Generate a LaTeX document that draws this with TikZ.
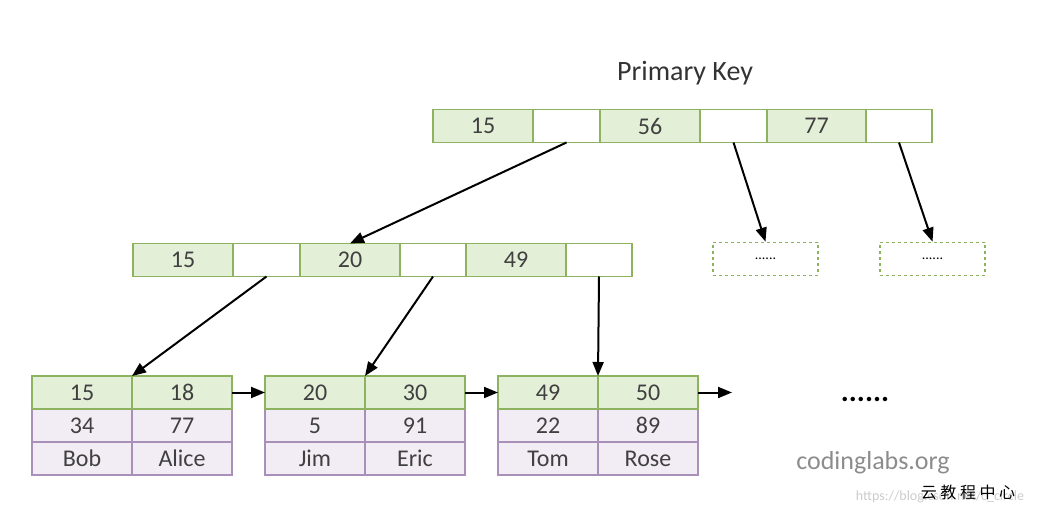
\documentclass[tikz,border=0pt]{standalone}
\usepackage{fontspec}
\setmainfont{Carlito}
\newfontfamily\cjk{Noto Sans CJK SC}
\usetikzlibrary{arrows.meta}
\definecolor{keyline}{HTML}{8DB360}
\definecolor{keyfill}{HTML}{E4EFD8}
\definecolor{rowline}{HTML}{A890B8}
\definecolor{rowfill}{HTML}{F2EDF4}
\tikzset{
  cell/.style={draw=keyline,line width=1.6pt,fill=keyfill,inner sep=0,outer sep=0,
    minimum height=33pt,font=\fontsize{24}{24}\selectfont,text=black!75},
  ptr/.style={cell,fill=white},
  row/.style={cell,draw=rowline,fill=rowfill},
  dots/.style={draw=keyline,line width=1.6pt,dashed,inner sep=0,minimum width=105pt,
    minimum height=33pt,font=\fontsize{14}{14}\selectfont},
  link/.style={-{Triangle[length=14pt,width=11pt]},line width=2pt}
}
\begin{document}
\begin{tikzpicture}[x=1pt,y=-1pt]
\useasboundingbox (0,0) rectangle (1049,518);
\node[font=\fontsize{28}{28}\selectfont,text=black!80] (pk) at (685,73) {Primary Key};
% root
\node[cell,minimum width=100pt] (r1) at (483,126) {15};
\node[ptr,minimum width=67pt] (r2) at (566.5,126) {};
\node[cell,minimum width=100pt] (r3) at (650,126) {56};
\node[ptr,minimum width=67pt] (r4) at (733.5,126) {};
\node[cell,minimum width=99pt] (r5) at (816.5,126) {77};
\node[ptr,minimum width=66pt] (r6) at (899,126) {};
% second level
\node[cell,minimum width=100pt] (m1) at (183,260) {15};
\node[ptr,minimum width=67pt] (m2) at (266.5,260) {};
\node[cell,minimum width=100pt] (m3) at (350,260) {20};
\node[ptr,minimum width=66pt] (m4) at (433,260) {};
\node[cell,minimum width=100pt] (m5) at (516,260) {49};
\node[ptr,minimum width=66pt] (m6) at (599,260) {};
\node[dots] (d1) at (765.5,259) {......};
\node[dots] (d2) at (932.5,259) {......};
% leaves
\foreach \n/\x/\ka/\kb/\va/\vb/\na/\nb in {1/32/15/18/34/77/Bob/Alice,2/265/20/30/5/91/Jim/Eric,3/498/49/50/22/89/Tom/Rose}{
  \node[row,minimum width=100pt] (l\n c) at (\x+50,458.5) {\na};
  \node[row,minimum width=100pt] (l\n d) at (\x+150,458.5) {\nb};
  \node[row,minimum width=100pt] (l\n e) at (\x+50,425.5) {\va};
  \node[row,minimum width=100pt] (l\n f) at (\x+150,425.5) {\vb};
  \node[cell,minimum width=100pt] (l\n a) at (\x+50,392.5) {\ka};
  \node[cell,minimum width=100pt] (l\n b) at (\x+150,392.5) {\kb};
}
\coordinate (next) at (732,392.5);
\node[font=\fontsize{30}{30}\selectfont\bfseries] (more) at (865,399) {......};
\draw[link] (r2.south) -- (m3.north);
\draw[link] (r4.south) -- (d1.north);
\draw[link] (r6.south) -- (d2.north);
\draw[link] (m2.south) -- (l1a.north east);
\draw[link] (m4.south) -- (l2a.north east);
\draw[link] (m6.south) -- (l3a.north east);
\draw[link] (l1b.east) -- (l2a.west);
\draw[link] (l2b.east) -- (l3a.west);
\draw[link] (l3b.east) -- (next);
% watermarks
\node[font=\fontsize{26}{26}\selectfont,text=black!45] (site) at (873,463) {codinglabs.org};
\node[font=\fontsize{14}{14}\selectfont,text=black!20] (url) at (940,497) {https://blog.csdn.net/c\_circle};
\node[font=\cjk\fontsize{16}{16}\selectfont,text=black] (cn) at (968,492) {云 教 程 中 心};
\end{tikzpicture}
\end{document}
